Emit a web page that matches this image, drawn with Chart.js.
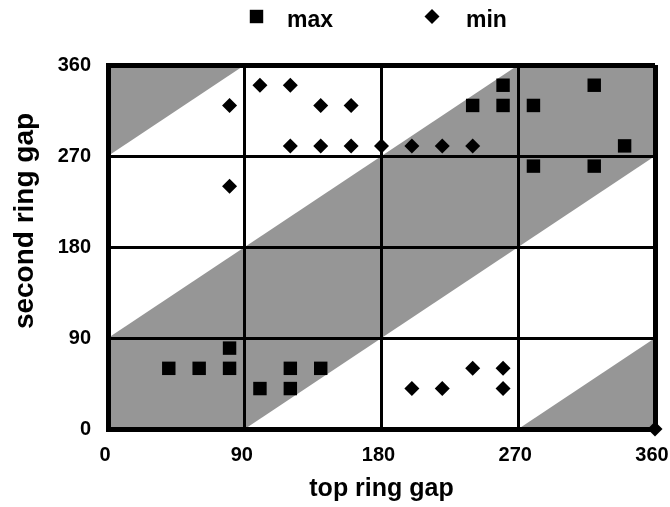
<!DOCTYPE html>
<html>
<head>
<meta charset="utf-8">
<title>ring gaps</title>
<script src="https://cdn.jsdelivr.net/npm/chart.js@4/dist/chart.umd.min.js"></script>
<style>
    html, body { margin: 0; padding: 0; background: #fff; }
    #wrap { width: 670px; height: 507px; }
</style>
</head>
<body>
<div id="wrap"><canvas id="gapChart"></canvas></div>
<script>

// =========================
// DATA
// =========================

const axisTicks = [0, 90, 180, 270, 360];

const maxTop    = [40, 60, 80, 80, 100, 120, 120, 140, 240, 260, 260, 280, 320, 340, 280, 320];
const maxSecond = [60, 60, 60, 80, 40, 60, 40, 60, 320, 340, 320, 320, 340, 280, 260, 260];

const minTop    = [80, 100, 120, 140, 160, 120, 140, 160, 180, 200, 220, 240, 80, 200, 220, 240, 260, 260, 360];
const minSecond = [320, 340, 340, 320, 320, 280, 280, 280, 280, 280, 280, 280, 240, 40, 40, 60, 60, 40, 0];

// shaded zones (corners of each polygon, in degrees)
const cornerTopX    = [0, 90, 0];
const cornerTopY    = [270, 360, 360];
const diagBandX     = [0, 90, 360, 360, 270, 0];
const diagBandY     = [0, 0, 270, 360, 360, 90];
const cornerBottomX = [270, 360, 360];
const cornerBottomY = [0, 0, 90];

const yTitle = "second ring gap";

const shadeColor = "#969696";
const FONT = "'Liberation Sans', Arial, sans-serif";

// =========================
// PLUGINS
// =========================

const shadePlugin = {
    id: "shade",
    beforeDraw(chart) {
        const { ctx, scales: { x, y } } = chart;
        const zones = [
            [cornerTopX, cornerTopY],
            [diagBandX, diagBandY],
            [cornerBottomX, cornerBottomY]
        ];
        ctx.save();
        ctx.fillStyle = shadeColor;
        zones.forEach(([xs, ys]) => {
            ctx.beginPath();
            xs.forEach((v, i) => {
                const px = x.getPixelForValue(v);
                const py = y.getPixelForValue(ys[i]);
                if (i === 0) ctx.moveTo(px, py); else ctx.lineTo(px, py);
            });
            ctx.closePath();
            ctx.fill();
        });
        ctx.restore();
    }
};

// legend row across the top + the vertical axis title (sits a bit high)
const keyPlugin = {
    id: "key",
    afterDraw(chart) {
        const ctx = chart.ctx;
        const spots = [
            { mx: 256.5, tx: 287 },
            { mx: 432, tx: 466 }
        ];
        ctx.save();
        ctx.fillStyle = "#000";
        chart.data.datasets.forEach((ds, i) => {
            Chart.helpers.drawPoint(ctx, {
                pointStyle: ds.pointStyle,
                radius: ds.pointRadius,
                rotation: 0,
                borderWidth: 0
            }, spots[i].mx, 16.5);
            ctx.font = "bold 23px " + FONT;
            ctx.textBaseline = "alphabetic";
            ctx.textAlign = "left";
            ctx.fillText(ds.label, spots[i].tx, 27);
        });

        ctx.translate(25.5, 221);
        ctx.rotate(-Math.PI / 2);
        ctx.font = "bold 28px " + FONT;
        ctx.textAlign = "center";
        ctx.textBaseline = "middle";
        ctx.fillText(yTitle, 0, 0);
        ctx.restore();
    }
};

// =========================
// CHART
// =========================

const toPoints = (xs, ys) => xs.map((v, i) => ({ x: v, y: ys[i] }));

const gridWidth = (c) => (c.tick && c.tick.value === 360 ? 5 : 3);

new Chart(document.getElementById("gapChart"), {
    type: "scatter",
    data: {
        datasets: [
            {
                label: "max",
                data: toPoints(maxTop, maxSecond),
                pointStyle: "rect",
                pointRadius: 9.5,
                pointHoverRadius: 9.5,
                backgroundColor: "#000",
                borderColor: "#000",
                borderWidth: 0,
                clip: false
            },
            {
                label: "min",
                data: toPoints(minTop, minSecond),
                pointStyle: "rectRot",
                pointRadius: 7.5,
                pointHoverRadius: 7.5,
                backgroundColor: "#000",
                borderColor: "#000",
                borderWidth: 0,
                clip: false
            }
        ]
    },
    options: {
        responsive: true,
        maintainAspectRatio: false,
        animation: false,
        layout: {
            padding: { top: 65, right: 15, left: 0, bottom: 0 }
        },
        plugins: {
            legend: { display: false },
            tooltip: { enabled: false }
        },
        scales: {
            x: {
                type: "linear",
                min: 0,
                max: 360,
                afterBuildTicks: (s) => { s.ticks = axisTicks.map(v => ({ value: v })); },
                afterFit: (s) => {
                    s.height = 78;
                    s.paddingLeft = 0;
                    s.paddingRight = 0;
                },
                ticks: {
                    color: "#000",
                    padding: 14,
                    labelOffset: -3,
                    maxRotation: 0,
                    font: { family: FONT, size: 20, weight: "bold" }
                },
                grid: { color: "#000", lineWidth: gridWidth, drawTicks: false },
                border: { color: "#000", width: 5 },
                title: {
                    display: true,
                    text: "top ring gap",
                    color: "#000",
                    padding: { top: 0, bottom: 3 },
                    font: { family: FONT, size: 25, weight: "bold" }
                }
            },
            y: {
                type: "linear",
                min: 0,
                max: 360,
                afterBuildTicks: (s) => { s.ticks = axisTicks.map(v => ({ value: v })); },
                afterFit: (s) => { s.width = 108; },
                ticks: {
                    color: "#000",
                    padding: 17,
                    font: { family: FONT, size: 20, weight: "bold" }
                },
                grid: { color: "#000", lineWidth: gridWidth, drawTicks: false },
                border: { color: "#000", width: 5 }
            }
        }
    },
    plugins: [shadePlugin, keyPlugin]
});

</script>
</body>
</html>
